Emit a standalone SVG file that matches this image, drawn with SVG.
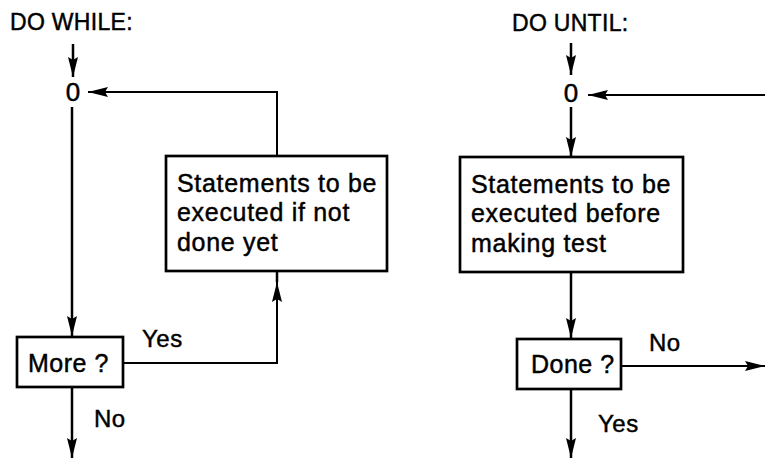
<svg xmlns="http://www.w3.org/2000/svg" width="765" height="461" viewBox="0 0 765 461">
<defs>
<style>
text{font-family:"Liberation Sans","DejaVu Sans",sans-serif;fill:#000;stroke:#000;stroke-width:0.45}
.h{font-size:23px;letter-spacing:0.3px}
.z{font-size:26px;text-anchor:middle}
.lbl{font-size:24px;letter-spacing:0.5px}
.bx{font-size:25px;letter-spacing:0.7px}
.box{fill:#fff;stroke:#000;stroke-width:2.7}
.c{fill:none;stroke:#000;stroke-width:2.5}
.ca{fill:none;stroke:#000;stroke-width:2.5;marker-end:url(#ah)}
.ch{fill:none;stroke:#000;stroke-width:2;marker-end:url(#ah)}
</style>
<marker id="ah" viewBox="0 0 20 11" refX="20" refY="5.5" markerWidth="20" markerHeight="11" markerUnits="userSpaceOnUse" orient="auto">
<path d="M0,0.5 L20,5.5 L0,10.5 L3,5.5 Z" fill="#000"/>
</marker>
</defs>
<rect width="765" height="461" fill="#fff"/>

<g id="title-while"><text class="h" x="10" y="30">DO WHILE:</text></g>
<g id="title-until"><text class="h" x="512" y="31">DO UNTIL:</text></g>

<g id="junction-while"><text class="z" x="73" y="101">0</text></g>
<g id="junction-until"><text class="z" x="571" y="102">0</text></g>

<g id="box-while-body">
<rect class="box" x="166" y="156" width="221" height="115"/>
<text class="bx" x="177" y="192">Statements to be</text>
<text class="bx" x="177" y="221">executed if not</text>
<text class="bx" x="177" y="251">done yet</text>
</g>

<g id="box-more">
<rect class="box" x="17" y="337" width="106" height="50"/>
<text class="lbl" x="28" y="372" style="font-size:25px">More ?</text>
</g>

<g id="box-until-body">
<rect class="box" x="460" y="157" width="223" height="115"/>
<text class="bx" x="471" y="193">Statements to be</text>
<text class="bx" x="471" y="222">executed before</text>
<text class="bx" x="471" y="252">making test</text>
</g>

<g id="box-done">
<rect class="box" x="517" y="339" width="104" height="50"/>
<text class="lbl" x="531" y="373" style="font-size:25px">Done ?</text>
</g>

<g id="connectors">
<!-- DO WHILE -->
<line class="ca" x1="73" y1="44" x2="73" y2="77"/>
<line class="ca" x1="72" y1="107" x2="72" y2="336"/>
<polyline class="ch" points="277,156 277,92 88,92"/>
<polyline class="ch" points="123,363 277,363 277,282"/>
<line class="c" x1="277" y1="282" x2="277" y2="271"/>
<line class="ca" x1="72" y1="387" x2="72" y2="458"/>
<!-- DO UNTIL -->
<line class="ca" x1="571" y1="43" x2="571" y2="75"/>
<line class="ca" x1="571" y1="107" x2="571" y2="157"/>
<line class="ch" x1="765" y1="95" x2="588" y2="95"/>
<line class="ca" x1="571" y1="272" x2="571" y2="338"/>
<line class="ch" x1="621" y1="366" x2="765" y2="366"/>
<line class="ca" x1="571" y1="389" x2="571" y2="458"/>
</g>

<g id="labels">
<text class="lbl" x="142" y="347">Yes</text>
<text class="lbl" x="94" y="427">No</text>
<text class="lbl" x="649" y="351">No</text>
<text class="lbl" x="598" y="432">Yes</text>
</g>
</svg>
